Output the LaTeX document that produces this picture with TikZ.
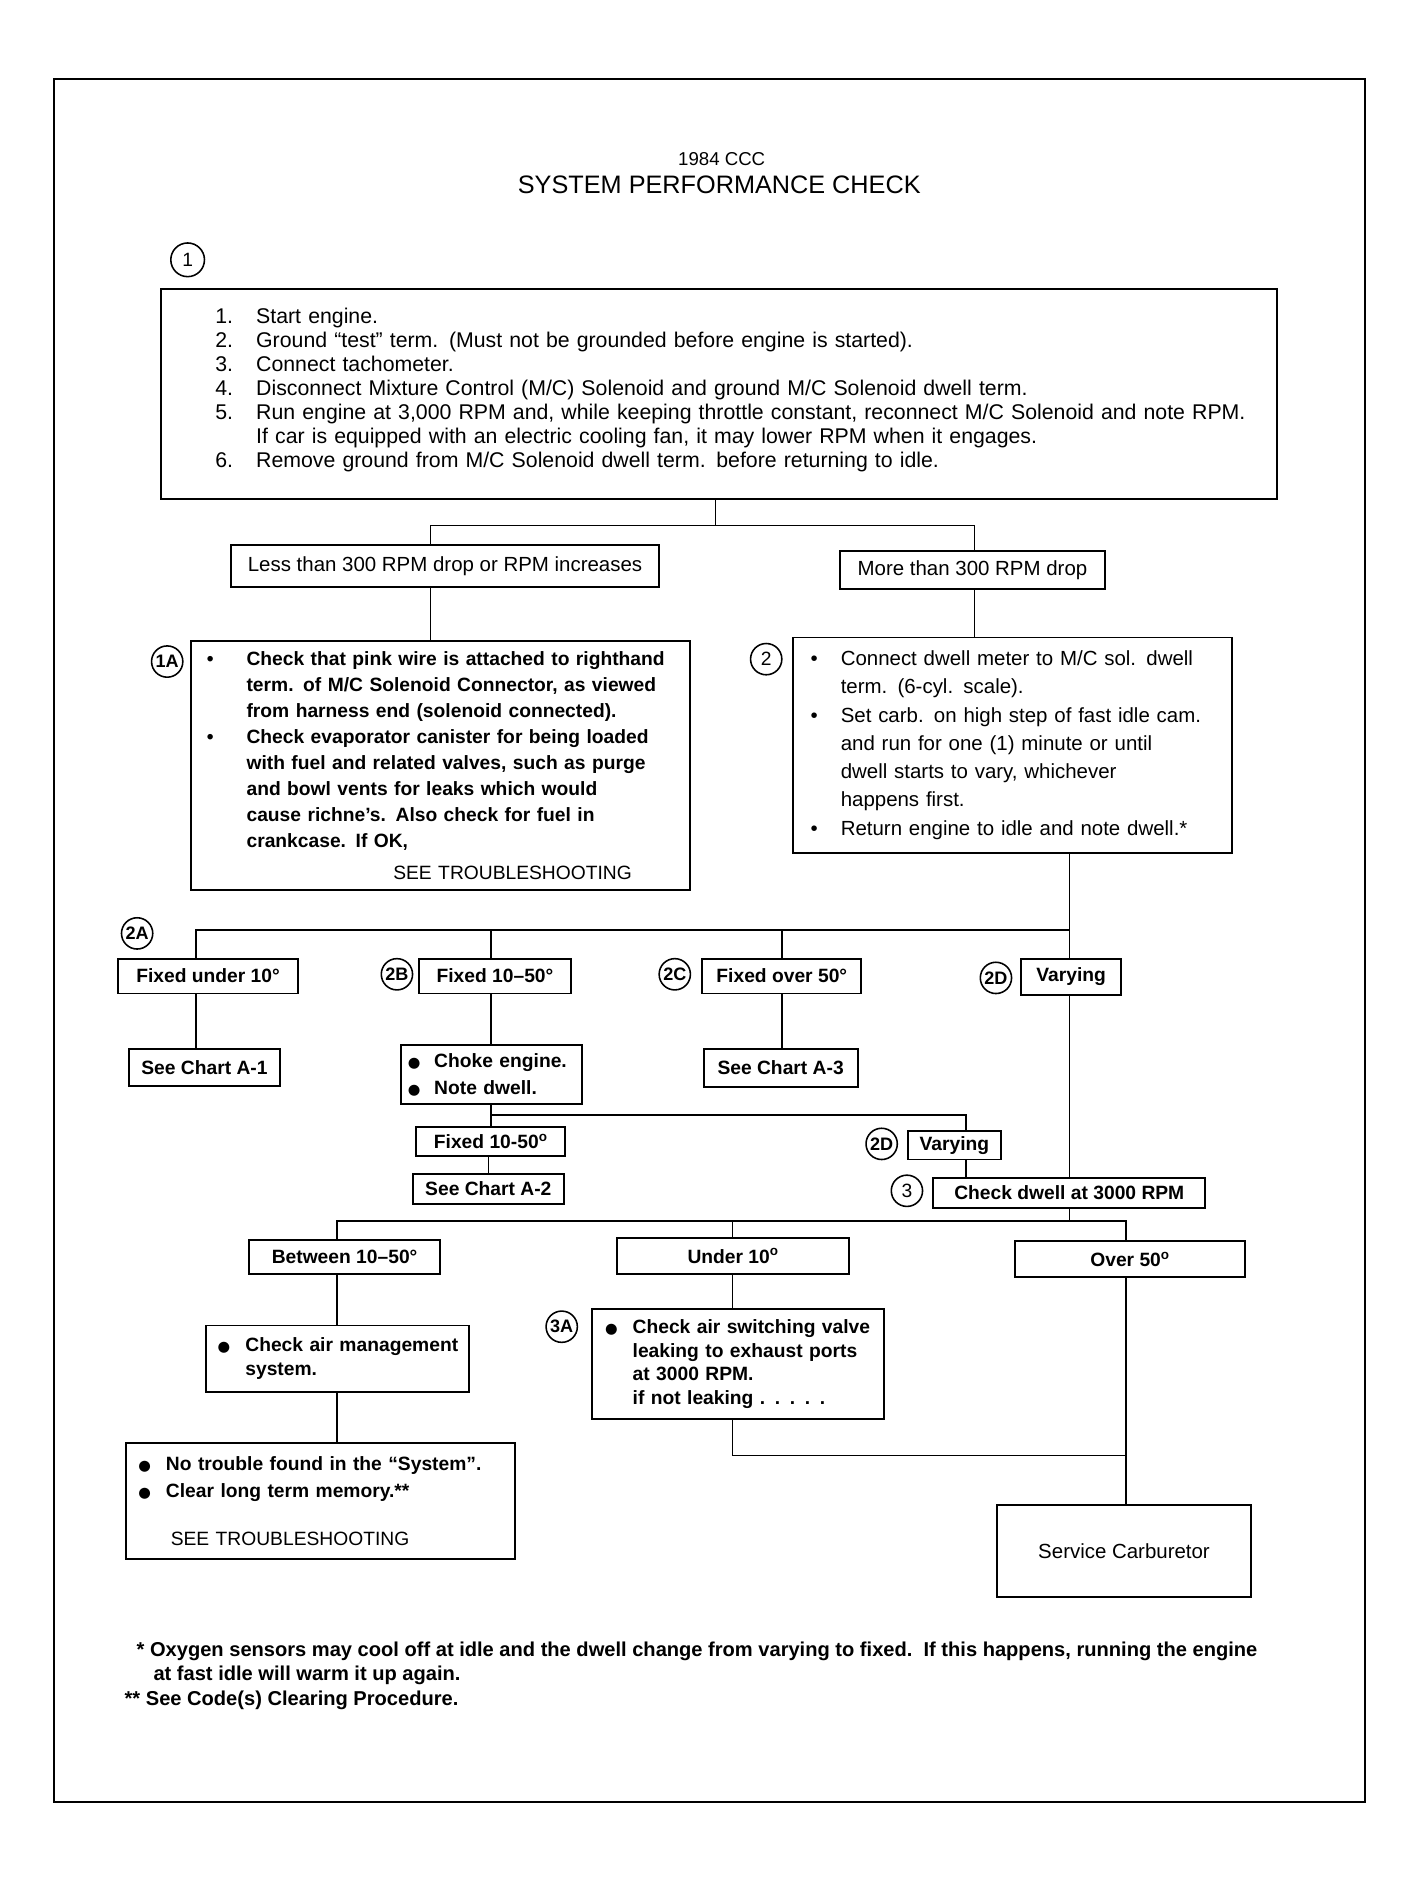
\documentclass[tikz,border=0pt]{standalone}
\usepackage{fontspec}
\setmainfont{Liberation Sans}
\newfontfamily\dotfont{DejaVu Sans}
\newcommand{\bigdot}{{\dotfont\fontsize{12}{12}\selectfont ●}}
\newcommand{\bitem}[1]{\makebox[#1][l]{\hspace{4pt}\textbullet}}
\newcommand{\ditem}[1]{\makebox[#1][l]{\hspace{3pt}\bigdot}}
\begin{document}
\begin{tikzpicture}[x=1pt, y=-1pt, line width=1.3pt,
  box/.style={draw, rectangle, line width=1.6pt, inner sep=0pt, align=center},
  wh/.style 2 args={minimum width=#1, minimum height=#2},
  num/.style={draw, circle, line width=1.3pt, inner sep=0pt, minimum size=26pt, font=\fontsize{15}{15}\selectfont\bfseries},
  txtreg/.style={font=\fontsize{17}{20}\selectfont},
  txtbold/.style={font=\fontsize{16}{20}\selectfont\bfseries}]
\useasboundingbox (0,0) rectangle (1165,1563);
\draw[line width=1.8pt] (45,66) rectangle (1135,1498);

\node[font=\fontsize{15.5}{18}\selectfont] (year) at (600,132) {1984 CCC};
\node[font=\fontsize{21}{24}\selectfont] (title) at (598,154) {SYSTEM PERFORMANCE CHECK};

\node[num, minimum size=28pt, font=\fontsize{16}{16}\selectfont] (n1) at (156,216) {1};
\node[box, wh={928pt}{175pt}, text width=900pt, align=left, font=\fontsize{17.7}{20}\selectfont] (setup) at (598,327.5) {%
\makebox[65pt][l]{\hspace{31pt}1.}Start engine.\\
\makebox[65pt][l]{\hspace{31pt}2.}Ground “test” term. (Must not be grounded before engine is started).\\
\makebox[65pt][l]{\hspace{31pt}3.}Connect tachometer.\\
\makebox[65pt][l]{\hspace{31pt}4.}Disconnect Mixture Control (M/C) Solenoid and ground M/C Solenoid dwell term.\\
\makebox[65pt][l]{\hspace{31pt}5.}Run engine at 3,000 RPM and, while keeping throttle constant, reconnect M/C Solenoid and note RPM.\\
\hspace*{65pt}If car is equipped with an electric cooling fan, it may lower RPM when it engages.\\
\makebox[65pt][l]{\hspace{31pt}6.}Remove ground from M/C Solenoid dwell term. before returning to idle.\\[-10pt]\mbox{}};

\node[box, wh={356pt}{35pt}, txtreg] (less) at (370,470.5) {Less than 300 RPM drop or RPM increases};
\node[box, wh={221pt}{32pt}, txtreg] (more) at (808.5,474) {More than 300 RPM drop};
\coordinate (top) at (595,437);
\coordinate (tl) at (358,437);
\coordinate (tr) at (810,437);
\draw (setup.south -| top) -- (top);
\draw (less.north -| tl) -- (tl) -- (tr) -- (more.north -| tr);

\node[num] (n1a) at (139,550) {1A};
\node[box, wh={415pt}{207pt}, text width=397pt, align=left, font=\fontsize{16}{21.6}\selectfont\bfseries] (leanchk) at (366.5,636.5) {%
\bitem{37pt}Check that pink wire is attached to righthand\\
\hspace*{37pt}term. of M/C Solenoid Connector, as viewed\\
\hspace*{37pt}from harness end (solenoid connected).\\
\bitem{37pt}Check evaporator canister for being loaded\\
\hspace*{37pt}with fuel and related valves, such as purge\\
\hspace*{37pt}and bowl vents for leaks which would\\
\hspace*{37pt}cause richne’s. Also check for fuel in\\
\hspace*{37pt}crankcase. If OK,\\[4.4pt]
\hspace*{159pt}{\mdseries SEE TROUBLESHOOTING}};
\draw (less.south -| tl) -- (leanchk.north -| tl);

\node[num, font=\fontsize{16}{16}\selectfont] (n2) at (637,548) {2};
\node[box, wh={365pt}{179pt}, text width=343pt, align=left, font=\fontsize{17}{23.5}\selectfont] (dwell) at (841.5,619.5) {%
\bitem{29pt}Connect dwell meter to M/C sol. dwell\\
\hspace*{29pt}term. (6-cyl. scale).\\
\bitem{29pt}Set carb. on high step of fast idle cam.\\
\hspace*{29pt}and run for one (1) minute or until\\
\hspace*{29pt}dwell starts to vary, whichever\\
\hspace*{29pt}happens first.\\
\bitem{29pt}Return engine to idle and note dwell.*};
\draw (more.south -| tr) -- (dwell.north -| tr);

\node[num] (n2a) at (114,776) {2A};
\node[num] (n2b) at (330,810) {2B};
\node[num] (n2c) at (561,810) {2C};
\node[num] (n2d) at (828,813) {2D};
\node[box, wh={150pt}{29pt}, txtbold] (fixlow) at (173,811.5) {Fixed under 10°};
\node[box, wh={127pt}{29pt}, txtbold] (fixmid) at (411.5,811.5) {Fixed 10–50°};
\node[box, wh={132pt}{29pt}, txtbold] (fixhigh) at (650,811.5) {Fixed over 50°};
\node[box, wh={83pt}{30pt}, txtbold] (vary) at (890.5,812) {Varying};
\coordinate (mr) at (889,773);
\coordinate (ml) at (163,773);
\coordinate (mm) at (408,773);
\coordinate (mo) at (650,773);
\draw (dwell.south -| mr) -- (mr) -- (ml) -- (fixlow.north -| ml);
\draw (mr) -- (vary.north -| mr);
\draw (mm) -- (fixmid.north -| mm);
\draw (mo) -- (fixhigh.north -| mo);

\node[box, wh={126pt}{31pt}, txtbold] (chartone) at (170,887.5) {See Chart A-1};
\node[box, wh={151pt}{49pt}, text width=145pt, align=left, font=\fontsize{16}{22}\selectfont\bfseries] (choke) at (408.5,893.5) {%
\ditem{25pt}Choke engine.\\
\ditem{25pt}Note dwell.};
\node[box, wh={128pt}{32pt}, txtbold] (chartthree) at (649,888) {See Chart A-3};
\draw (fixlow.south -| ml) -- (chartone.north -| ml);
\draw (fixmid.south -| mm) -- (choke.north -| mm);
\draw (fixhigh.south -| mo) -- (chartthree.north -| mo);

\node[box, wh={124pt}{24pt}, txtbold] (fixagain) at (408,949) {Fixed 10-50\textsuperscript{o}};
\node[box, wh={126pt}{25pt}, txtbold] (charttwo) at (406,988.5) {See Chart A-2};
\node[num] (n2dd) at (733,951) {2D};
\node[box, wh={77pt}{24pt}, txtbold] (varyagain) at (793.5,952) {Varying};
\node[num, font=\fontsize{16}{16}\selectfont] (n3) at (754,990) {3};
\node[box, wh={226pt}{25pt}, txtbold] (rpmcheck) at (889,991.5) {Check dwell at 3000 RPM};
\coordinate (cl) at (408,927);
\coordinate (cr) at (803,927);
\draw (choke.south -| cl) -- (cl) -- (cr) -- (varyagain.north -| cr);
\draw (cl) -- (fixagain.north -| cl);
\draw (fixagain.south -| charttwo.north) -- (charttwo.north);
\draw (varyagain.south -| cr) -- (rpmcheck.north -| cr);
\draw (vary.south -| mr) -- (rpmcheck.north -| mr);

\node[box, wh={159pt}{28pt}, txtbold] (between) at (286.5,1045) {Between 10–50°};
\node[box, wh={193pt}{30pt}, txtbold] (under) at (609.5,1044) {Under 10\textsuperscript{o}};
\node[box, wh={191pt}{30pt}, txtbold] (over) at (939.5,1047) {Over 50\textsuperscript{o}};
\coordinate (lr) at (889,1015);
\coordinate (ll) at (280,1015);
\coordinate (lm) at (609,1015);
\coordinate (lo) at (936,1015);
\draw (rpmcheck.south -| lr) -- (lr);
\draw (between.north -| ll) -- (ll) -- (lo) -- (over.north -| lo);
\draw (lm) -- (under.north -| lm);

\node[box, wh={219pt}{55pt}, text width=205pt, align=left, font=\fontsize{16}{20}\selectfont\bfseries] (airmgmt) at (280.5,1129.5) {%
\ditem{26pt}Check air management\\
\hspace*{26pt}system.};
\node[box, wh={323pt}{96pt}, text width=309pt, align=left, font=\fontsize{16}{23}\selectfont\bfseries] (notrouble) at (266.5,1248) {%
\ditem{26pt}No trouble found in the “System”.\\
\ditem{26pt}Clear long term memory.**\\[17pt]
\hspace*{30pt}{\mdseries SEE TROUBLESHOOTING}};
\draw (between.south -| ll) -- (airmgmt.north -| ll);
\draw (airmgmt.south -| ll) -- (notrouble.north -| ll);

\node[num] (n3a) at (467,1103) {3A};
\node[box, wh={243pt}{92pt}, text width=227pt, align=left, font=\fontsize{16}{19.7}\selectfont\bfseries] (airvalve) at (613.5,1134) {%
\ditem{26pt}Check air switching valve\\
\hspace*{26pt}leaking to exhaust ports\\
\hspace*{26pt}at 3000 RPM.\\
\hspace*{26pt}if not leaking . . . . .};
\node[box, wh={211pt}{77pt}, txtreg] (carb) at (934.5,1289.5) {Service Carburetor};
\coordinate (jm) at (609,1210);
\coordinate (jo) at (936,1210);
\draw (under.south -| lm) -- (airvalve.north -| lm);
\draw (airvalve.south -| jm) -- (jm) -- (jo);
\draw (over.south -| lo) -- (carb.north -| lo);

\node[anchor=base west, inner sep=0pt, font=\fontsize{16.7}{20}\selectfont\bfseries] (noteone) at (113,1377) {* Oxygen sensors may cool off at idle and the dwell change from varying to fixed.\ \ If this happens, running the engine};
\node[anchor=base west, inner sep=0pt, font=\fontsize{16.7}{20}\selectfont\bfseries] (notetwo) at (127,1397) {at fast idle will warm it up again.};
\node[anchor=base west, inner sep=0pt, font=\fontsize{16.7}{20}\selectfont\bfseries] (notethree) at (103,1418) {** See Code(s) Clearing Procedure.};
\end{tikzpicture}
\end{document}
